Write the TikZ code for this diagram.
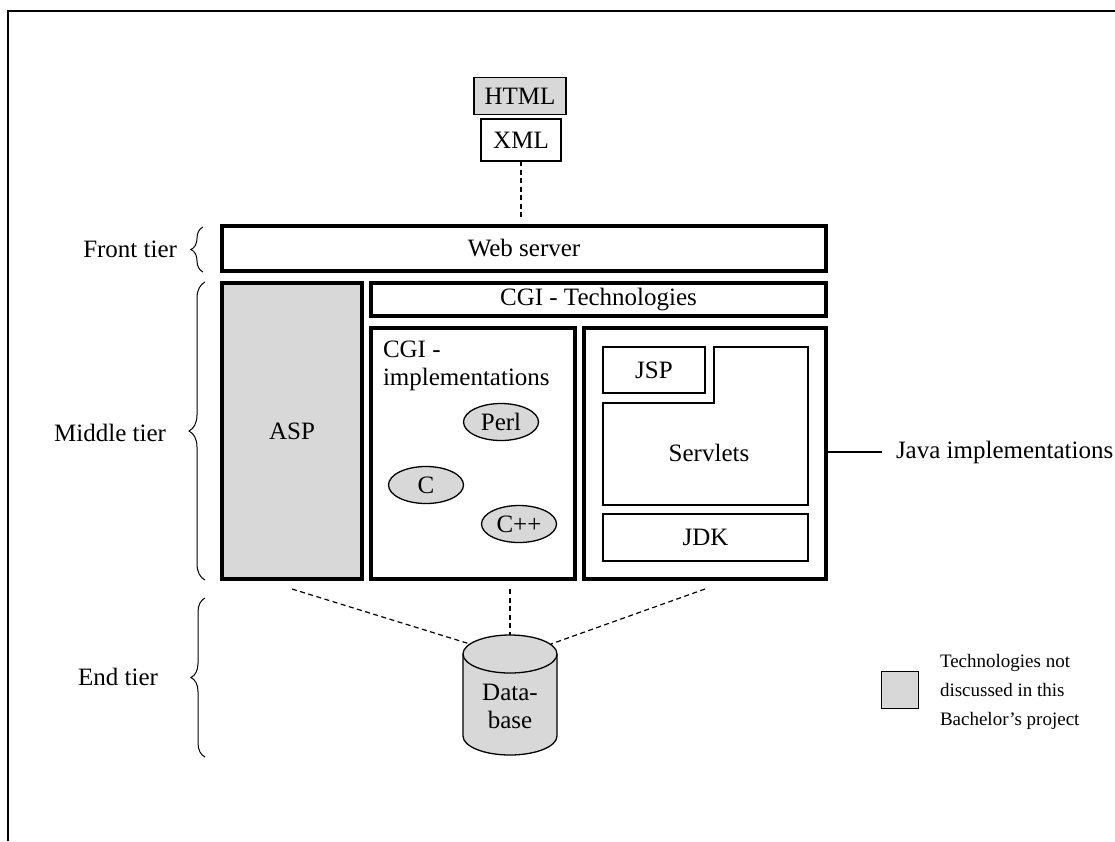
\documentclass[tikz,border=0pt]{standalone}
\usepackage{fontspec}
\setmainfont{Liberation Serif}
\usetikzlibrary{shapes.geometric,decorations.pathreplacing}
\definecolor{shade}{RGB}{216,216,216}

\begin{document}
\begin{tikzpicture}[x=1pt,y=-1pt,
  every node/.style={inner sep=0pt, outer sep=0pt},
  txt/.style={font=\fontsize{25}{28}\selectfont},
  heavy/.style={draw, rectangle, line width=4.5pt, txt},
  light/.style={draw, rectangle, line width=1.3pt, txt},
  thinline/.style={line width=1.3pt},
  oval/.style={draw, ellipse, line width=1.3pt, fill=shade, txt,
    minimum width=75, minimum height=37},
  link/.style={dash pattern=on 5pt off 3.5pt, line width=1.2pt},
  tierbrace/.style={decorate, decoration={brace, amplitude=#1}, line width=1pt}]

\useasboundingbox (0,0) rectangle (1115,841);

% page frame (top and left edges only)
\draw[line width=1.5pt] (8,841) -- (8,11) -- (1115,11);

% client side documents
\node[light, fill=shade, minimum width=92, minimum height=37] (html) at (520,96) {HTML};
\node[light, minimum width=80, minimum height=42] (xml) at (521,140) {XML};

% front tier
\node[heavy, minimum width=604, minimum height=45] (web) at (524,248.5) {Web server};
\draw[link, shorten >=7pt] (xml.south) -- (xml.south |- web.north);

% middle tier
\node[heavy, fill=shade, minimum width=140, minimum height=296] (asp) at (292,431) {ASP};
\node[heavy, minimum width=455, minimum height=33] (cgitech) at (598.5,299.5) {CGI - Technologies};
\node[heavy, minimum width=204, minimum height=251] (cgi) at (473,453.5) {};
\node[txt, align=left, anchor=north west] (cgilbl) at (383,341) {CGI -\\implementations};
\node[oval] (perl) at (501,422) {Perl};
\node[oval] (c) at (426,485) {C};
\node[oval] (cpp) at (519,524) {C++};

\node[heavy, minimum width=242, minimum height=251] (java) at (705,453.5) {};
\node[light, minimum width=102, minimum height=46] (jsp) at (654,370) {JSP};
\draw[thinline] (603,403) -- (714,403) -- (714,347) -- (808,347) -- (808,505) -- (603,505) -- cycle;
\node[txt] (servlets) at (709,453) {Servlets};
\node[light, minimum width=205, minimum height=47] (jdk) at (705.5,537.5) {JDK};

\node[txt, anchor=west] (javalbl) at (896,452) {Java implementations};
\draw[thinline] (java.east |- javalbl.west) -- ([xshift=-14pt]javalbl.west);

% end tier: database
\draw[thinline, fill=shade] (463,654) -- (463,736)
  arc[start angle=180, end angle=0, x radius=47, y radius=19] -- (557,654)
  arc[start angle=0, end angle=-180, x radius=47, y radius=19] -- cycle;
\draw[thinline] (463,654) arc[start angle=180, end angle=0, x radius=47, y radius=19];
\node[txt, align=center] (db) at (510,706) {Data-\\base};
\coordinate (dbL) at (470,644);
\coordinate (dbR) at (551,644);
\coordinate (dbT) at (510,635);
\coordinate (dbup) at (dbT |- cgi.south);

\draw[link] ([yshift=-10pt]asp.south) -- (dbL);
\draw[link] ([yshift=-10pt]java.south) -- (dbR);
\draw[link] ([yshift=-10pt]dbup) -- (dbT);

% tier braces and labels
\draw[tierbrace=12] (203,272) -- (203,227);
\node[txt, anchor=east] (front) at (177,249) {Front tier};
\draw[tierbrace=16] (205,580) -- (205,282);
\node[txt, anchor=east] (middle) at (166,433) {Middle tier};
\draw[tierbrace=14] (205,757) -- (205,598);
\node[txt] (endt) at (118,677) {End tier};

% legend
\node[draw, thinline, fill=shade, minimum width=37, minimum height=37] (key) at (900,690) {};
\node[font=\fontsize{19}{29}\selectfont, align=left, anchor=west] (keytext) at (940,692)
  {Technologies not\\discussed in this\\Bachelor's project};
\end{tikzpicture}
\end{document}
